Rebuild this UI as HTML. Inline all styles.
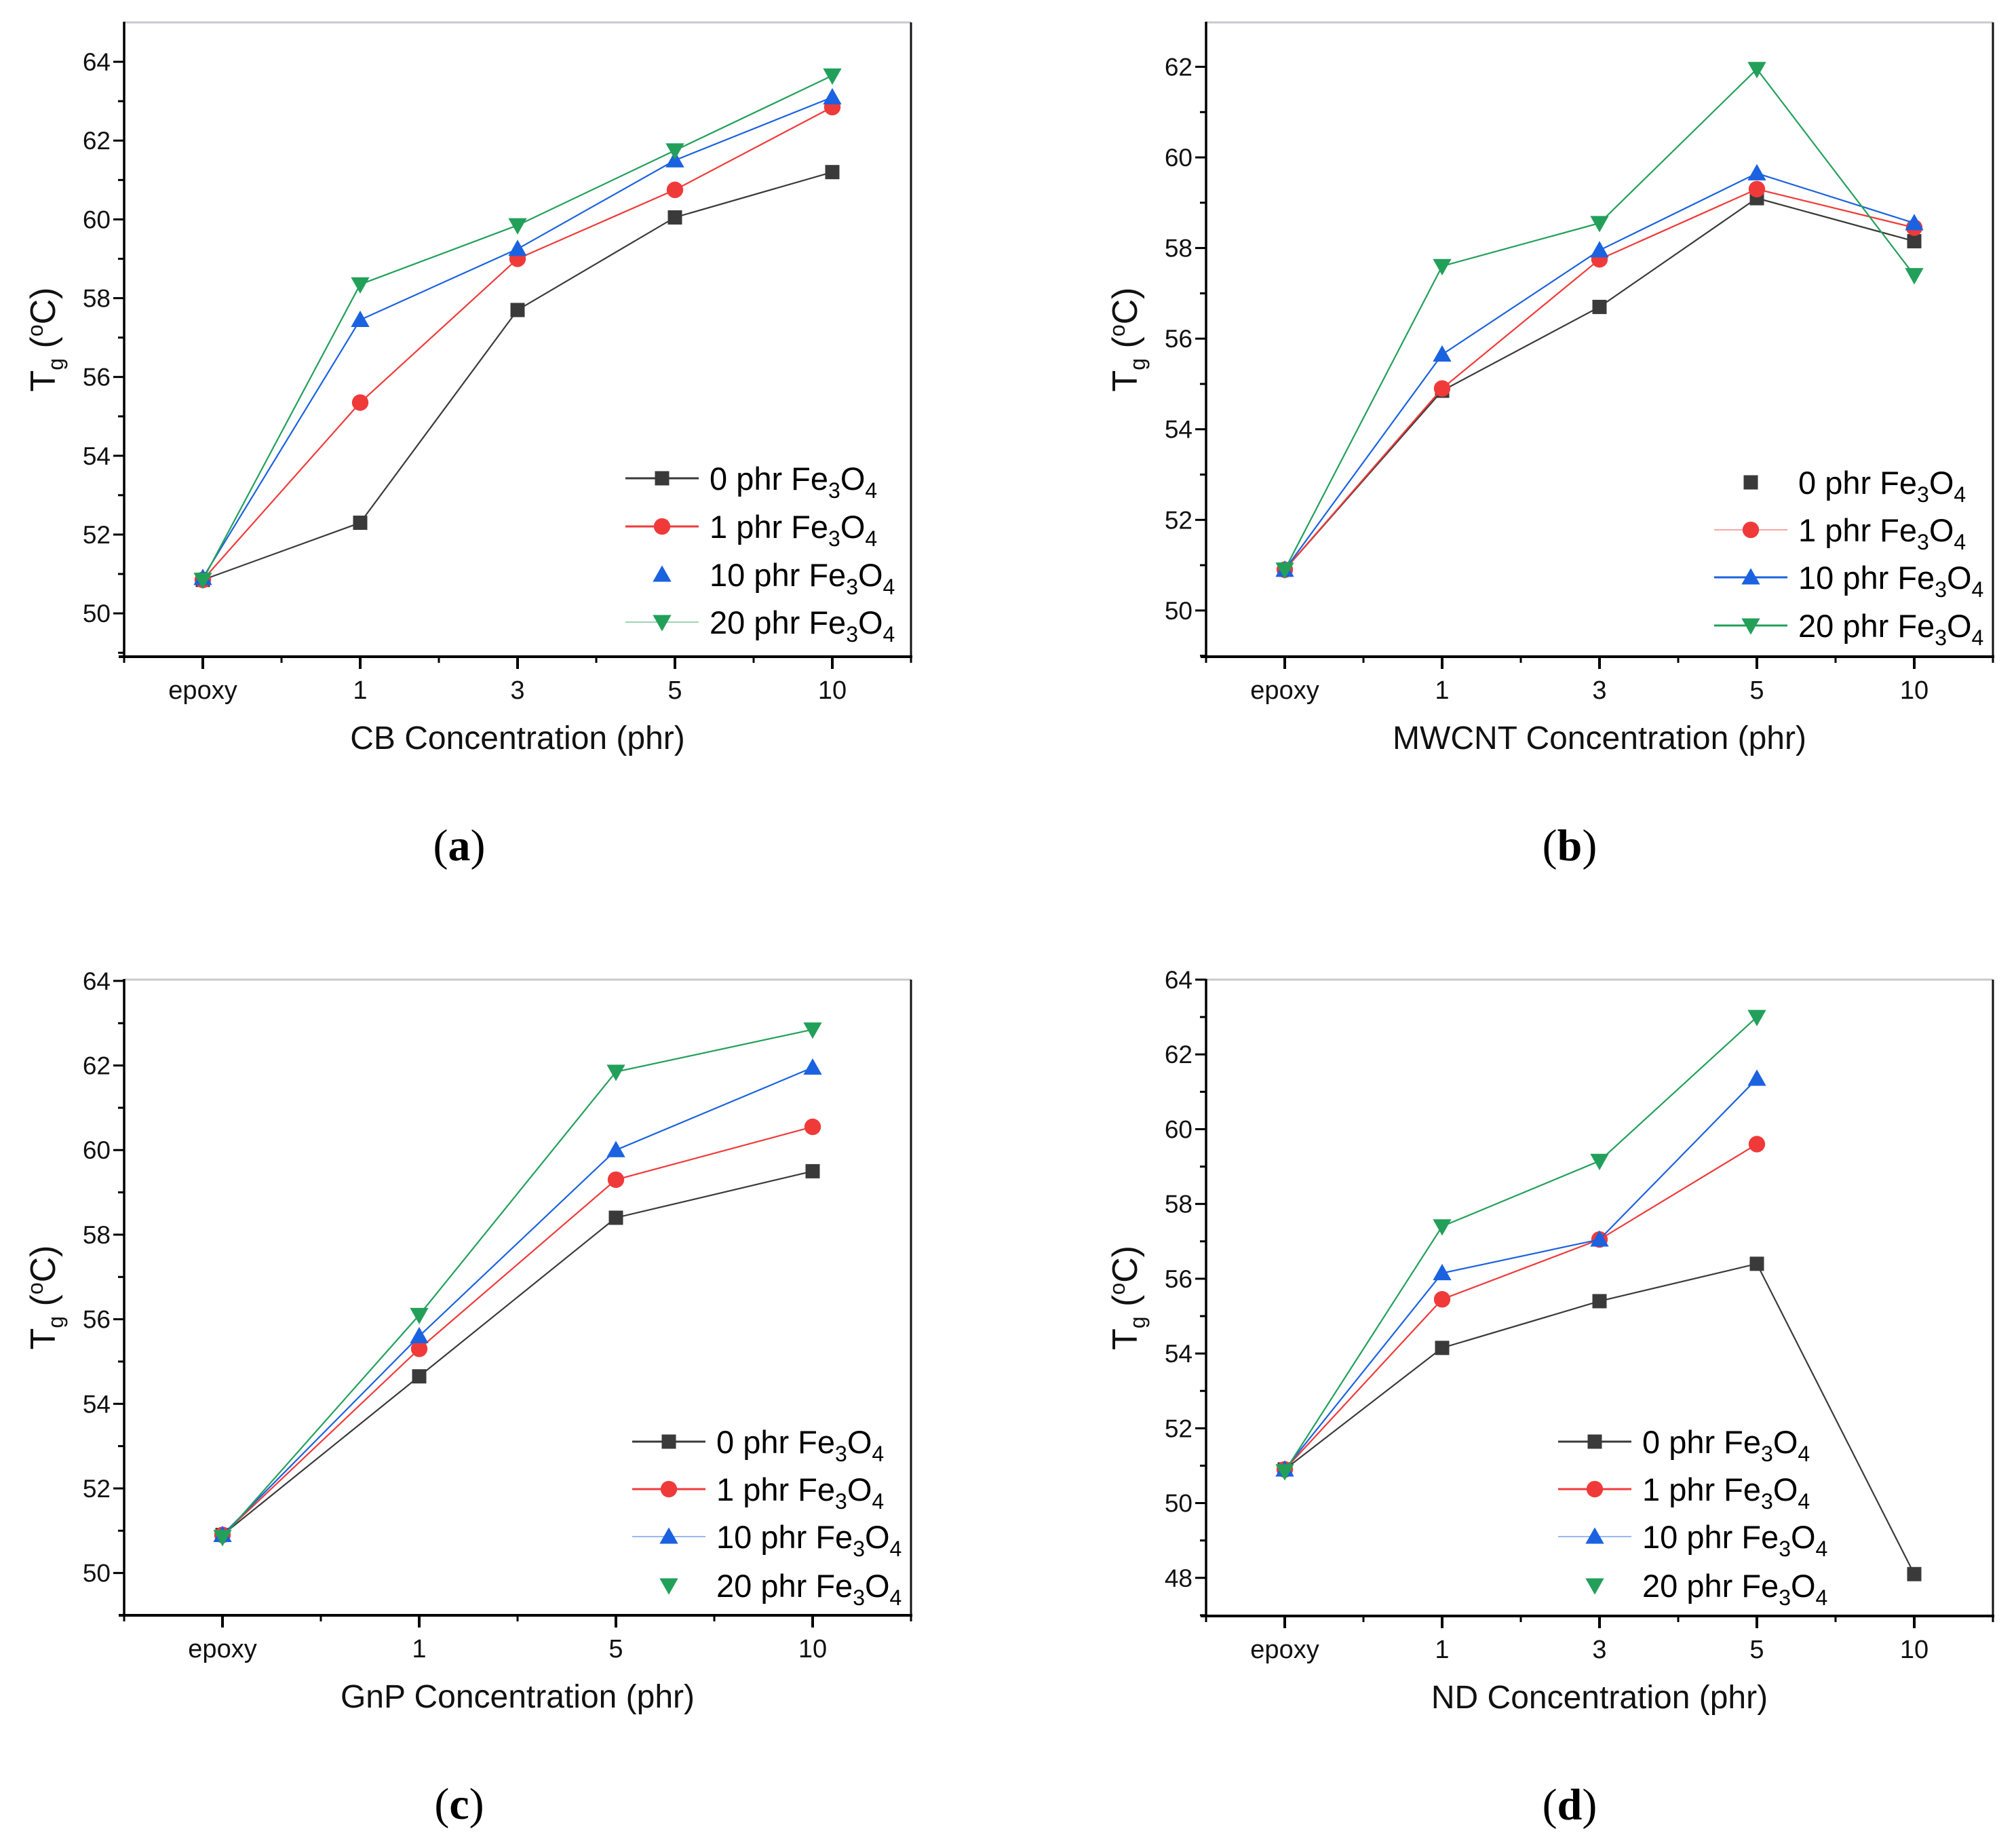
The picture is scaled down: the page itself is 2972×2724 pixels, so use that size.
<!DOCTYPE html>
<html><head><meta charset="utf-8"><style>
html,body{margin:0;padding:0;background:#fff;}
svg{display:block;font-family:"Liberation Sans",sans-serif;}
</style></head><body>
<svg id="fig" width="2972" height="2724" viewBox="0 0 2972 2724" xmlns="http://www.w3.org/2000/svg"></svg>
<script>
// ---- data ----
const catsA = ["epoxy","1","3","5","10"];
const catsB = ["epoxy","1","3","5","10"];
const catsC = ["epoxy","1","5","10"];
const catsD = ["epoxy","1","3","5","10"];
const a0 = [50.85,52.3,57.7,60.05,61.2];
const a1 = [50.85,55.35,59.0,60.75,62.85];
const a10 = [50.9,57.45,59.25,61.5,63.1];
const a20 = [50.85,58.35,59.85,61.75,63.65];
const b0 = [50.9,54.85,56.7,59.1,58.15];
const b1 = [50.9,54.9,57.75,59.3,58.45];
const b10 = [50.9,55.65,57.95,59.65,58.55];
const b20 = [50.9,57.6,58.55,61.95,57.4];
const c0 = [50.9,54.65,58.4,59.5];
const c1 = [50.9,55.3,59.3,60.55];
const c10 = [50.9,55.6,60.0,61.95];
const c20 = [50.85,56.1,61.85,62.85];
const d0 = [50.9,54.15,55.4,56.4,48.1];
const d1 = [50.9,55.45,57.05,59.6];
const d10 = [50.9,56.15,57.05,61.35];
const d20 = [50.85,57.4,59.15,63.0];
const ticksA = [50,52,54,56,58,60,62,64];
const ticksB = [50,52,54,56,58,60,62];
const ticksC = [50,52,54,56,58,60,62,64];
const ticksD = [48,50,52,54,56,58,60,62,64];
const seriesNames = ["0 phr","1 phr","10 phr","20 phr"];

const NS="http://www.w3.org/2000/svg";
const svg=document.getElementById('fig');
function mk(tag,attrs,parent){const e=document.createElementNS(NS,tag);for(const k in attrs)e.setAttribute(k,attrs[k]);(parent||svg).appendChild(e);return e;}
const colors=["#3a3a3a","#f03a3a","#1a62e0","#22a05a"];
const markers=["square","circle","up","down"];

function marker(g,type,x,y,c,s){
  let e;
  if(type==="square") e=mk('rect',{x:x-s*0.5,y:y-s*0.5,width:s,height:s,fill:c},g);
  else if(type==="circle") e=mk('circle',{cx:x,cy:y,r:s*0.58,fill:c},g);
  else if(type==="up") e=mk('polygon',{points:`${x},${y-s*0.65} ${x+s*0.65},${y+s*0.5} ${x-s*0.65},${y+s*0.5}`,fill:c},g);
  else e=mk('polygon',{points:`${x},${y+s*0.65} ${x+s*0.65},${y-s*0.5} ${x-s*0.65},${y-s*0.5}`,fill:c},g);
  return e;
}

function panel(p){
  const g=mk('g',{});
  
  
  const n=p.cats.length;
  const xs=i=>p.L+(i+0.5)*(p.R-p.L)/n;
  const ys=v=>p.B-(v-p.ymin)/(p.ymax-p.ymin)*(p.B-p.T);
  const top=mk('line',{x1:p.L,y1:p.T,x2:p.R,y2:p.T,stroke:"#c8c8d0","stroke-width":3},g);
  
  const rt=mk('line',{x1:p.R,y1:p.T,x2:p.R,y2:p.B,stroke:"#111","stroke-width":3},g);
  
  const ya=mk('line',{x1:p.L,y1:p.T-1,x2:p.L,y2:p.B,stroke:"#000","stroke-width":3.5},g);
  
  const xa=mk('line',{x1:p.L-8,y1:p.B,x2:p.R+2,y2:p.B,stroke:"#000","stroke-width":4},g);
  
  p.yt.forEach(v=>{
    mk('line',{x1:p.L-16,y1:ys(v),x2:p.L,y2:ys(v),stroke:"#000","stroke-width":3},g);
    const mv=v+1; if(mv<p.ymax) mk('line',{x1:p.L-9,y1:ys(mv),x2:p.L,y2:ys(mv),stroke:"#000","stroke-width":3},g);
    const t=mk('text',{x:p.L-20,y:ys(v)+13,"text-anchor":"end","font-size":37,fill:"#111"},g);
    t.textContent=v;
    
  });
  const v0=p.yt[0]-1; if(v0>p.ymin) mk('line',{x1:p.L-9,y1:ys(v0),x2:p.L,y2:ys(v0),stroke:"#000","stroke-width":3},g);
  for(let i=0;i<=n;i++){mk('line',{x1:xs(i-0.5),y1:p.B,x2:xs(i-0.5),y2:p.B+9,stroke:"#000","stroke-width":3},g);}
  p.cats.forEach((c,i)=>{
    mk('line',{x1:xs(i),y1:p.B,x2:xs(i),y2:p.B+18,stroke:"#000","stroke-width":4},g);
    const t=mk('text',{x:xs(i),y:p.B+62,"text-anchor":"middle","font-size":38,fill:"#111"},g);
    t.textContent=c;
    
  });
  const xt=mk('text',{x:(p.L+p.R)/2,y:p.B+136,"text-anchor":"middle","font-size":48,fill:"#111"},g);
  xt.textContent=p.xtitle;
  
  const cy=(p.T+p.B)/2;
  const yt=mk('text',{x:p.L-102,y:cy,"text-anchor":"middle","font-size":52,fill:"#111",transform:`rotate(-90 ${p.L-102} ${cy})`},g);
  yt.innerHTML='T<tspan font-size="32" dy="12">g</tspan><tspan dy="-12"> (</tspan><tspan font-size="32" dy="-18">o</tspan><tspan dy="18">C)</tspan>';
  
  p.series.forEach((s,k)=>{
    const pts=s.map((v,i)=>`${xs(i)},${ys(v)}`).join(' ');
    const pl=mk('polyline',{points:pts,fill:"none",stroke:colors[k],"stroke-width":2.2},g);
    
    
    s.forEach((v,i)=>{
      const m=marker(g,markers[k],xs(i),ys(v),colors[k],21);
      
      
    });
  });
  p.leg.rows.forEach((ry,k)=>{
    if(p.leg.lines[k]>0){
      mk('line',{x1:p.leg.mx-54,y1:ry,x2:p.leg.mx+54,y2:ry,stroke:colors[k],"stroke-width":p.leg.lines[k]===1?3:1.5,opacity:p.leg.lines[k]===1?1:0.6},g);
    }
    const m=marker(g,markers[k],p.leg.mx,ry,colors[k],21);
    
    const t=mk('text',{x:p.leg.mx+70,y:ry+17,"font-size":47,fill:"#000"},g);
    t.innerHTML=seriesNames[k]+' Fe<tspan font-size="32" dy="12">3</tspan><tspan dy="-12">O</tspan><tspan font-size="32" dy="12">4</tspan>';
    
  });
  const lab=mk('text',{x:p.labX,y:p.B+300,"text-anchor":"middle","font-size":66,"font-family":"Liberation Serif, serif",fill:"#000"},g);
  lab.innerHTML='(<tspan font-weight="bold">'+p.label+'</tspan>)';
  
}

panel({name:'panel-a',L:183,R:1343,T:33,B:968,ymin:48.9,ymax:65.0,cats:catsA,yt:ticksA,series:[a0,a1,a10,a20],xtitle:"CB Concentration (phr)",label:"a",labX:677,
  leg:{mx:976,rows:[705,776,847,917],lines:[1,1,0,2]}});
panel({name:'panel-b',L:1778,R:2938,T:33,B:968,ymin:48.98,ymax:62.98,cats:catsB,yt:ticksB,series:[b0,b1,b10,b20],xtitle:"MWCNT Concentration (phr)",label:"b",labX:2314,
  leg:{mx:2581,rows:[711,781,851,922],lines:[0,2,1,1]}});
panel({name:'panel-c',L:183,R:1343,T:1444,B:2381,ymin:49.0,ymax:64.03,cats:catsC,yt:ticksC,series:[c0,c1,c10,c20],xtitle:"GnP Concentration (phr)",label:"c",labX:677,
  leg:{mx:986,rows:[2125,2195,2265,2337],lines:[1,1,2,0]}});
panel({name:'panel-d',L:1778,R:2938,T:1444,B:2382,ymin:46.98,ymax:64.0,cats:catsD,yt:ticksD,series:[d0,d1,d10,d20],xtitle:"ND Concentration (phr)",label:"d",labX:2314,
  leg:{mx:2351,rows:[2125,2195,2265,2337],lines:[1,1,2,0]}});
</script>
</body></html>
